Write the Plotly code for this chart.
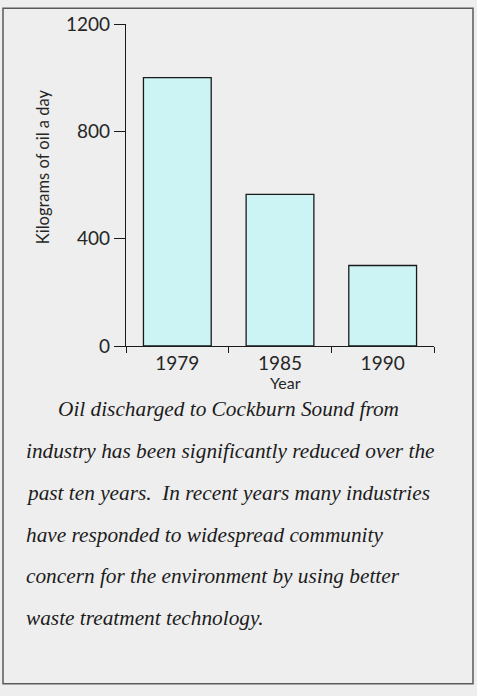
import plotly.graph_objects as go

# Oil discharged to Cockburn Sound, kilograms per day
years = ["1979", "1985", "1990"]
oil_kg_per_day = [1000, 565, 300]
y_ticks = [0, 400, 800, 1200]

caption_lines = [
    "Oil discharged to Cockburn Sound from",
    "industry has been significantly reduced over the",
    "past ten years.  In recent years many industries",
    "have responded to widespread community",
    "concern for the environment by using better",
    "waste treatment technology.",
]

W, H = 477, 696
L, R, T, B = 126, 434, 20, 346  # plot area in pixels


def px(x):
    return (x - L) / (R - L)


def py(y):
    return (B - y) / (B - T)


bg = "#eeeeee"
sans = "Lato"
serif = "Liberation Serif"
ink = "#262626"

fig = go.Figure(
    go.Bar(
        x=years,
        y=oil_kg_per_day,
        width=0.66,
        marker=dict(color="#cdf4f5", line=dict(color="#1a1a1a", width=1.3)),
        hoverinfo="skip",
    )
)

fig.update_layout(
    width=W,
    height=H,
    margin=dict(l=L, r=W - R, t=T, b=H - B, pad=0),
    paper_bgcolor=bg,
    plot_bgcolor=bg,
    showlegend=False,
    font=dict(family=sans, color=ink),
    xaxis=dict(
        type="category",
        range=[-0.5, 2.5],
        showline=True,
        linecolor="#1a1a1a",
        linewidth=1.3,
        ticks="outside",
        tickson="boundaries",
        ticklen=6,
        tickcolor="#1a1a1a",
        tickwidth=1.3,
        showgrid=False,
        tickfont=dict(size=19, family=sans, color=ink),
        fixedrange=True,
    ),
    yaxis=dict(
        range=[0, 1200],
        tickvals=y_ticks,
        showline=True,
        linecolor="#1a1a1a",
        linewidth=1.3,
        ticks="outside",
        ticklen=11,
        tickcolor="#1a1a1a",
        tickwidth=1.3,
        showgrid=False,
        zeroline=False,
        tickfont=dict(size=19, family=sans, color=ink),
        fixedrange=True,
    ),
)

annotations = [
    dict(
        text="Kilograms of oil a day",
        x=px(43), y=py(165), textangle=-90,
        font=dict(size=16.5, family=sans, color=ink),
    ),
    dict(
        text="Year",
        x=px(285), y=py(383),
        font=dict(size=16, family=sans, color=ink),
    ),
]

line_y = [410, 452, 495, 537, 579, 621]
line_x = [56, 24, 24, 24, 24, 24]
for txt, lx, ly in zip(caption_lines, line_x, line_y):
    annotations.append(
        dict(
            text=f"<i>{txt}</i>",
            x=px(lx), y=py(ly), xanchor="left",
            font=dict(size=21.3, family=serif, color="#1c1c1c"),
        )
    )

for a in annotations:
    a.update(xref="paper", yref="paper", showarrow=False,
             **({} if "xanchor" in a else {"xanchor": "center"}), yanchor="middle")
fig.update_layout(annotations=annotations)

# Page frame around the chart and caption
fig.add_shape(
    type="rect", xref="paper", yref="paper",
    x0=px(3), x1=px(473), y0=py(688), y1=py(4),
    line=dict(color="#5a5a5a", width=1.5), fillcolor="rgba(0,0,0,0)",
    layer="below",
)

fig.write_html("out.html")
